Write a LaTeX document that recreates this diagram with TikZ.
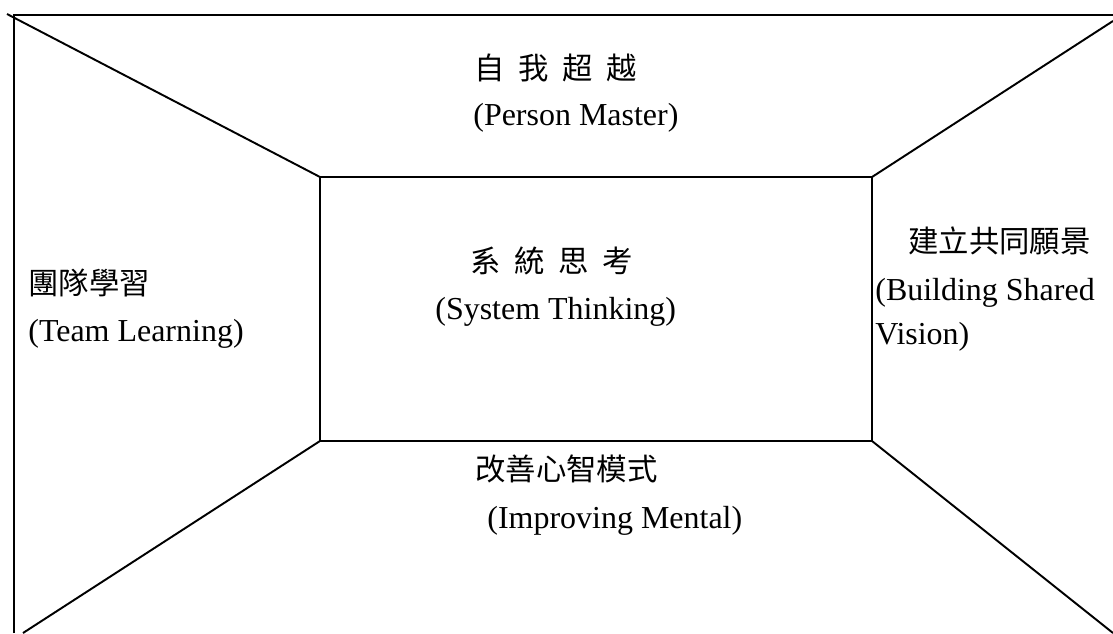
\documentclass[tikz,border=0pt]{standalone}
\usepackage{fontspec}
\setmainfont{Liberation Serif}
\newfontfamily\cjk{Noto Sans CJK TC}
\usepackage{tikz}
\definecolor{ink}{HTML}{000000}

\begin{document}
\fontsize{18.2pt}{22pt}\selectfont
\begin{tikzpicture}[x=0.02cm,y=-0.02cm,
    wall/.style={ink,line width=1.1pt},
    latin/.style={anchor=base west,inner sep=0pt,color=ink},
    hanzi/.style={latin,font={\cjk\fontsize{17.3pt}{21pt}\selectfont}},
    hanzispread/.style={latin,font={\cjk\fontsize{17.3pt}{21pt}\selectfont\spaceskip=0.45em\relax}}]
  \useasboundingbox (0,0) rectangle (1113,633);
  % room corners
  \coordinate (in-nw) at (320,177);
  \coordinate (in-ne) at (872,177);
  \coordinate (in-se) at (872,441);
  \coordinate (in-sw) at (320,441);
  \coordinate (out-nw) at (7,14);
  \coordinate (out-ne) at (1113,21);
  \coordinate (out-se) at (1113,633);
  \coordinate (out-sw) at (23,633);
  \coordinate (wall-bot) at (14,633);
  \coordinate (wall-top) at (14,15);
  \coordinate (ceil-end) at (1113,15);
  % outer frame and back wall
  \draw[wall] (wall-bot) -- (wall-top) -- (ceil-end);
  \draw[wall] (in-nw) rectangle (in-se);
  \foreach \a/\b in {out-nw/in-nw, out-ne/in-ne, out-se/in-se, out-sw/in-sw}
    \draw[wall] (\a) -- (\b);
  % labels
  \node[hanzispread] (mastery-zh) at (474,79) {自 我 超 越};
  \node[latin] (mastery-en) at (473,125) {(Person Master)};
  \node[hanzispread] (system-zh) at (470,272) {系 統 思 考};
  \node[latin] (system-en) at (435,319) {(System Thinking)};
  \node[hanzi] (team-zh) at (28,294) {團隊學習};
  \node[latin] (team-en) at (28,341) {(Team Learning)};
  \node[hanzi] (vision-zh) at (908,252) {建立共同願景};
  \node[latin] (vision-en) at (875,300) {(Building Shared};
  \node[latin] (vision-en2) at (875,344) {Vision)};
  \node[hanzi] (mental-zh) at (475,480) {改善心智模式};
  \node[latin] (mental-en) at (487,528) {(Improving Mental)};
\end{tikzpicture}
\end{document}
